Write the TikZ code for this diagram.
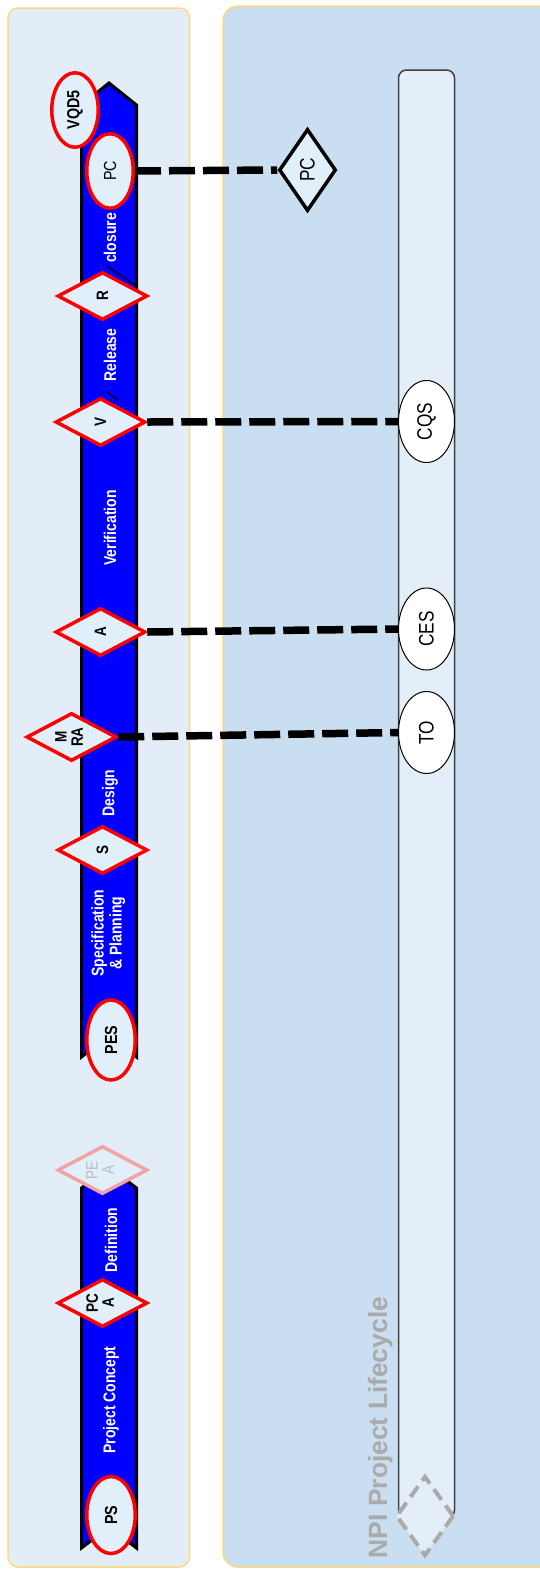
\documentclass[tikz,border=0pt]{standalone}
\usepackage{fontspec}
\setmainfont{Liberation Sans}
\newfontfamily\nar[FakeStretch=0.82]{Liberation Sans}
\usetikzlibrary{shapes.geometric}
\definecolor{lpanel}{HTML}{E2EDF8}
\definecolor{rpanel}{HTML}{C9DEF0}
\definecolor{pborder}{HTML}{FFD880}
\definecolor{lanefill}{HTML}{E3EEF8}
\definecolor{msfill}{HTML}{E1EFFA}
\definecolor{bandblue}{HTML}{0000FF}
\definecolor{npigray}{HTML}{AAAAAA}
\definecolor{fadered}{HTML}{F2A3A3}
\definecolor{fadetext}{HTML}{BBBBBB}
\newcommand{\rl}[1]{\rotatebox{90}{#1}}
\newcommand{\rll}[2]{\rotatebox{90}{\begin{tabular}{@{}c@{}}#1\\#2\end{tabular}}}
\tikzset{
  panelbox/.style={draw=pborder, line width=1.5pt},
  bandshape/.style={fill=bandblue, draw=black, line width=3pt, line join=miter},
  bandsep/.style={draw=black, line width=1.2pt},
  bandlbl/.style={text=white, inner sep=0pt, font=\nar\bfseries\fontsize{17}{18}\selectfont},
  redell/.style={ellipse, draw=red, line width=3.5pt, fill=msfill, inner sep=0pt,
    minimum width=46.5pt, minimum height=74.5pt, font=\nar\bfseries\fontsize{17.5}{17.5}\selectfont},
  reddia/.style={diamond, draw=red, line width=3.5pt, fill=msfill, aspect=2, inner sep=0pt,
    minimum width=90pt, minimum height=48pt, font=\nar\bfseries\fontsize{16.5}{16}\selectfont},
  fadedia/.style={reddia, draw=fadered, text=fadetext, font=\nar\fontsize{16.5}{16}\selectfont},
  blackdia/.style={diamond, draw=black, line width=3.5pt, fill=msfill, aspect=0.7, inner sep=0pt,
    minimum width=57pt, minimum height=82pt, font=\nar\fontsize{21}{21}\selectfont},
  whiteell/.style={ellipse, draw=black, line width=1pt, fill=white, inner sep=0pt,
    minimum width=56pt, minimum height=82pt, font=\nar\fontsize{21}{21}\selectfont},
  conn/.style={line width=7.5pt, dash pattern=on 26pt off 8pt},
}
\begin{document}
\begin{tikzpicture}[x=1pt, y=-1pt]
\clip (0,0) rectangle (540,1569);
% panels
\draw[panelbox, fill=lpanel, rounded corners=10pt] (8,8) rectangle (189.5,1567);
\draw[panelbox, fill=rpanel, rounded corners=15pt] (223,6) rectangle (570,1567);
% lane
\draw[draw=black!75, line width=1.5pt, fill=lanefill, rounded corners=8pt] (398.5,70) rectangle (454.5,1518);
% band groups
\draw[bandshape] (81.5,105) -- (109,83) -- (136.5,105) -- (136.5,1057) -- (109,1035) -- (81.5,1057) -- cycle;
\draw[bandshape] (81.5,1188) -- (109,1167) -- (136.5,1188) -- (136.5,1548) -- (109,1527) -- (81.5,1548) -- cycle;
\draw[bandsep] (107,266) -- (136.5,286);
\draw[bandsep] (107,392) -- (118,400);
\draw[bandsep] (129,641) -- (136.5,647);
% band labels
\node[bandlbl] (lclosure) at (110,238) {\rl{closure}};
\node[bandlbl] (lrelease) at (110,355) {\rl{Release}};
\node[bandlbl] (lverif) at (110,528) {\rl{Verification}};
\node[bandlbl] (ldesign) at (110,793) {\rl{Design}};
\node[bandlbl] (lspec) at (109,933) {\rll{Specification}{\& Planning}};
\node[bandlbl] (ldef) at (111,1240) {\rl{Definition}};
\node[bandlbl] (lconcept) at (111,1400) {\rl{Project Concept}};
% title
\node[rotate=90, anchor=base, inner sep=0pt, text=npigray, font=\bfseries\fontsize{26.4}{26.4}\selectfont] (npi) at (387,1427.5) {NPI Project Lifecycle};
% end diamond
\node[diamond, draw=npigray, line width=4pt, dash pattern=on 13pt off 7pt, fill=lanefill,
  aspect=0.7, inner sep=0pt, minimum width=58pt, minimum height=80pt] (enddia) at (425,1516) {};
% left milestones
\node[redell] (vqd) at (75,110) {\rl{VQD5}};
\node[redell, font=\nar\fontsize{17.5}{17.5}\selectfont] (pcl) at (110,171) {\rl{PC}};
\node[reddia] (rel) at (102.5,296) {\rl{R}};
\node[reddia] (ver) at (100.5,422) {\rl{V}};
\node[reddia] (acc) at (100.5,632) {\rl{A}};
\node[reddia] (mra) at (71.5,737) {\rll{M}{RA}};
\node[reddia] (spec) at (102.5,850) {\rl{S}};
\node[redell, minimum width=48.5pt, minimum height=80pt] (pes) at (111,1040) {\rl{PES}};
\node[fadedia] (pea) at (102.5,1170) {\rll{PE}{A}};
\node[reddia] (pca) at (102.5,1303) {\rll{PC}{A}};
\node[redell, minimum width=48.5pt, minimum height=77pt] (ps) at (111,1515) {\rl{PS}};
% right milestones
\node[blackdia] (pcr) at (307.5,170) {\rl{PC}};
\node[whiteell] (cqs) at (426.5,421.5) {\rl{CQS}};
\node[whiteell] (ces) at (426.5,629) {\rl{CES}};
\node[whiteell] (toe) at (426.5,732.5) {\rl{TO}};
% connectors
\draw[conn] (pcl.east) -- (pcr.west);
\draw[conn] (ver.east) -- (cqs.west);
\draw[conn] (acc.east) -- (ces.west);
\draw[conn] (mra.east) -- (toe.west);
\end{tikzpicture}
\end{document}
